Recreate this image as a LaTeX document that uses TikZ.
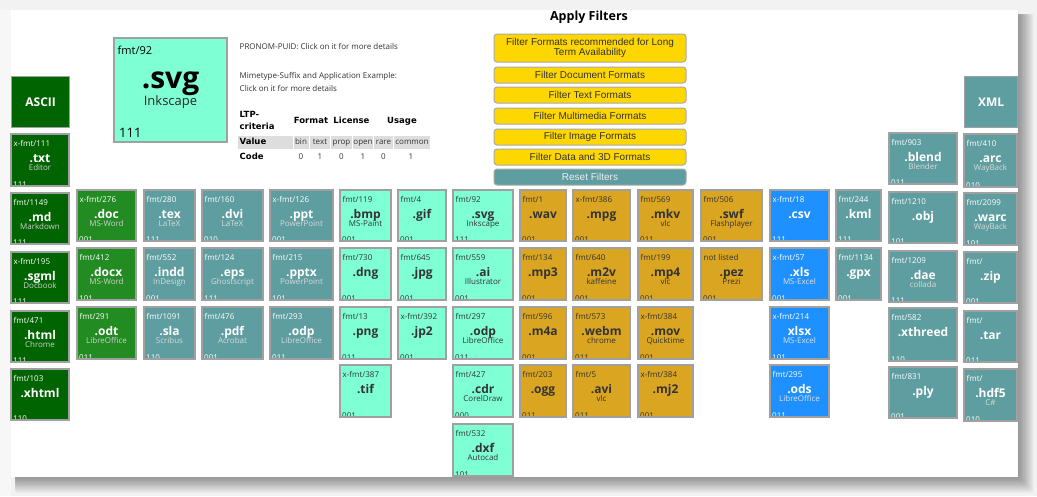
\documentclass[tikz,border=0pt]{standalone}
\usepackage{fontspec}
\setmainfont{Open Sans}
\newfontfamily\btnfont{Liberation Sans}
\newfontfamily\tabfont{DejaVu Sans}
\definecolor{dkgreen}{HTML}{006400}
\definecolor{fgreen}{HTML}{228B22}
\definecolor{cadet}{HTML}{5F9EA0}
\definecolor{aqua}{HTML}{7FFFD4}
\definecolor{gold}{HTML}{DAA520}
\definecolor{dodger}{HTML}{1E90FF}
\definecolor{btngold}{HTML}{FFD700}
\definecolor{darktext}{HTML}{333333}
\definecolor{tileedge}{HTML}{A0A0A0}
\definecolor{btnedge}{HTML}{A8A8A8}
\definecolor{cellgrey}{HTML}{DDDDDD}
\definecolor{backgr}{HTML}{F2F2F2}
\colorlet{fgdkgreen}{white}\colorlet{subdkgreen}{white!82!black}
\colorlet{fgfgreen}{white}\colorlet{subfgreen}{white!82!black}
\colorlet{fgcadet}{white}\colorlet{subcadet}{white!85!black}
\colorlet{fgdodger}{white}\colorlet{subdodger}{white!88!black}
\colorlet{fgaqua}{darktext}\colorlet{subaqua}{darktext}
\colorlet{fggold}{darktext}\colorlet{subgold}{darktext}
\newcommand\tile[9]{\def\tileN{#1}\def\tileC{#2}\def\tileL{#3}\def\tileR{#4}\def\tileT{#5}\def\tileB{#6}\def\tileI{#7}\def\tileE{#8}\def\tileA{#9}\tilefinish}
\newcommand\tilefinish[1]{%
 \begin{scope}
  \clip (\tileL,\tileT) rectangle (\tileR,\tileB);
  \node[tilebox, fill=\tileC, minimum width={(\tileR-\tileL)*1pt}, minimum height={(\tileB-\tileT)*1pt}] (\tileN) at ({(\tileL+\tileR)/2},{(\tileT+\tileB)/2}) {};
  \node[idtxt, text=fg\tileC, anchor=base west] (\tileN-id) at ({\tileL+2.5},{\tileT+12}) {\tileI};
  \node[exttxt, text=fg\tileC, anchor=base] (\tileN-ext) at ({(\tileL+\tileR)/2},{\tileT+28}) {\tileE};
  \ifx\tileA\empty\else
  \node[apptxt, text=sub\tileC, anchor=base] (\tileN-app) at ({(\tileL+\tileR)/2},{\tileT+36}) {\tileA};
  \fi
  \node[codetxt, text=fg\tileC, anchor=base west] (\tileN-code) at ({\tileL+2},{\tileB+1}) {#1};
 \end{scope}
 \draw[tileborder] (\tileN.north west) rectangle (\tileN.south east);
}
\begin{document}
\begin{tikzpicture}[x=1pt,y=-1pt,
 tilebox/.style={rectangle, inner sep=0pt, outer sep=0pt},
 tileborder/.style={draw=tileedge, line width=1.3pt},
 idtxt/.style={font=\fontsize{8}{9}\selectfont, inner sep=0pt},
 exttxt/.style={font=\bfseries\fontsize{12}{13}\selectfont, inner sep=0pt},
 apptxt/.style={font=\fontsize{8}{9}\selectfont, inner sep=0pt},
 codetxt/.style={font=\fontsize{8}{9}\selectfont, inner sep=0pt},
 headtile/.style={rectangle, inner sep=0pt, draw=tileedge, line width=1.3pt, text=white, font=\bfseries\fontsize{12}{13}\selectfont},
 btn/.style={rectangle, rounded corners=3pt, draw=btnedge, line width=1pt, fill=btngold, inner sep=0pt, minimum width=192pt, text=darktext, font=\btnfont\fontsize{10}{12}\selectfont, align=center},
 legtxt/.style={inner sep=0pt, text=darktext, font=\fontsize{8}{9}\selectfont},
 tabbold/.style={inner sep=0pt, text=black, font=\tabfont\bfseries\fontsize{8.5}{10}\selectfont},
 tabcell/.style={inner sep=0pt, text=darktext, font=\fontsize{8}{9}\selectfont},
 greycell/.style={fill=cellgrey},
]
\useasboundingbox (0,0) rectangle (1037,496);
% background and panel
\fill[backgr] (0,0) rectangle (1037,496);
\fill[white!97!black] (0,10) rectangle (11,496);
\foreach \i in {1,...,12}
  \fill[black, opacity=0.035, rounded corners=2pt] (15,14) rectangle ({1018+\i*1.3},{477+\i*1.3});
\node[tilebox, fill=white, minimum width=1007pt, minimum height=467pt, anchor=north west] (panel) at (11,10) {};

% title and filter buttons
\node[inner sep=0pt, anchor=base, font=\bfseries\fontsize{12.5}{14}\selectfont, text=black] (title) at (589,20.5) {Apply Filters};
\node[btn, minimum height=28pt] (b1) at (590,48) {Filter Formats recommended for Long\\[-1.5pt]Term Availability};
\node[btn, minimum height=16pt] (b2) at (590,75) {Filter Document Formats};
\node[btn, minimum height=16pt] (b3) at (590,95) {Filter Text Formats};
\node[btn, minimum height=16pt] (b4) at (590,116) {Filter Multimedia Formats};
\node[btn, minimum height=16pt] (b5) at (590,137) {Filter Image Formats};
\node[btn, minimum height=16pt] (b6) at (590,157) {Filter Data and 3D Formats};
\node[btn, minimum height=16pt, fill=cadet, text=white!93!black] (b7) at (590,177) {Reset Filters};

% legend tile
\begin{scope}
\node[tilebox, fill=aqua, minimum width=113pt, minimum height=104pt, anchor=north west] (legend) at (114,38) {};
\node[inner sep=0pt, anchor=base west, text=black, font=\fontsize{11}{12}\selectfont] (legend-id) at (117.5,54.5) {fmt/92};
\node[inner sep=0pt, anchor=base, text=black, font=\bfseries\fontsize{30}{32}\selectfont] (legend-ext) at (170.5,88.5) {.svg};
\node[inner sep=0pt, anchor=base, text=black!85, font=\fontsize{13}{14}\selectfont] (legend-app) at (170.5,105) {Inkscape};
\node[inner sep=0pt, anchor=base west, text=black, font=\fontsize{13}{14}\selectfont] (legend-code) at (119,137) {111};
\end{scope}
\draw[tileborder] (legend.north west) rectangle (legend.south east);

% legend texts
\node[legtxt, anchor=base west] (l1) at (239.5,49.3) {PRONOM-PUID: Click on it for more details};
\node[legtxt, anchor=base west] (l2) at (239.5,78.5) {Mimetype-Suffix and Application Example:};
\node[legtxt, anchor=base west] (l3) at (239.5,91.8) {Click on it for more details};
% table
\node[tabbold, anchor=base west] (ltp1) at (239.5,117.5) {LTP-};
\node[tabbold, anchor=base west] (ltp2) at (239.5,129.5) {criteria};
\node[tabbold, anchor=base] (hfmt) at (311,123.3) {Format};
\node[tabbold, anchor=base] (hlic) at (351.5,123.3) {License};
\node[tabbold, anchor=base] (huse) at (402,123.3) {Usage};
\fill[greycell] (238,135.5) rectangle (292.5,148.5);
\fill[greycell] (293.5,135.5) rectangle (309,148.5);
\fill[greycell] (310,135.5) rectangle (330,148.5);
\fill[greycell] (331,135.5) rectangle (352,148.5);
\fill[greycell] (353,135.5) rectangle (373,148.5);
\fill[greycell] (374,135.5) rectangle (393,148.5);
\fill[greycell] (394,135.5) rectangle (430,148.5);
\node[tabbold, anchor=base west] (vlab) at (239.5,144.5) {Value};
\node[tabcell, anchor=base] (v1) at (301,144.5) {bin};
\node[tabcell, anchor=base] (v2) at (320,144.5) {text};
\node[tabcell, anchor=base] (v3) at (341.5,144.5) {prop};
\node[tabcell, anchor=base] (v4) at (363,144.5) {open};
\node[tabcell, anchor=base] (v5) at (383.5,144.5) {rare};
\node[tabcell, anchor=base] (v6) at (412,144.5) {common};
\node[tabbold, anchor=base west] (clab) at (239.5,159.5) {Code};
\node[tabcell, anchor=base] (c1) at (301,159.5) {0};
\node[tabcell, anchor=base] (c2) at (320,159.5) {1};
\node[tabcell, anchor=base] (c3) at (341.5,159.5) {0};
\node[tabcell, anchor=base] (c4) at (363,159.5) {1};
\node[tabcell, anchor=base] (c5) at (383.5,159.5) {0};
\node[tabcell, anchor=base] (c6) at (411,159.5) {1};

% header tiles
\node[headtile, fill=dkgreen, minimum width=58pt, minimum height=51pt, anchor=north west] (ascii) at (11,76) {ASCII};
\node[headtile, fill=cadet, minimum width=53pt, minimum height=51pt, anchor=north west] (xml) at (964,76) {XML};

% column 1
\tile{txt}{dkgreen}{11}{69}{134}{186}{x-fmt/111}{.txt}{Editor}{111}
\tile{md}{dkgreen}{11}{69}{193}{244}{fmt/1149}{.md}{Markdown}{111}
\tile{sgml}{dkgreen}{11}{69}{252}{303}{x-fmt/195}{.sgml}{Docbook}{111}
\tile{html}{dkgreen}{11}{69}{311}{362}{fmt/471}{.html}{Chrome}{111}
\tile{xhtml}{dkgreen}{11}{69}{369}{420}{fmt/103}{.xhtml}{}{110}
% column 2
\tile{doc}{fgreen}{77}{136}{190}{241}{x-fmt/276}{.doc}{MS-Word}{001}
\tile{docx}{fgreen}{77}{136}{248}{300}{fmt/412}{.docx}{MS-Word}{101}
\tile{odt}{fgreen}{77}{136}{307}{359}{fmt/291}{.odt}{LibreOffice}{011}
% column 3
\tile{tex}{cadet}{144}{195}{190}{241}{fmt/280}{.tex}{LaTeX}{111}
\tile{indd}{cadet}{144}{195}{248}{300}{fmt/552}{.indd}{InDesign}{001}
\tile{sla}{cadet}{144}{195}{307}{359}{fmt/1091}{.sla}{Scribus}{110}
% column 4
\tile{dvi}{cadet}{202}{263}{190}{241}{fmt/160}{.dvi}{LaTeX}{010}
\tile{eps}{cadet}{202}{263}{248}{300}{fmt/124}{.eps}{Ghostscript}{111}
\tile{pdf}{cadet}{202}{263}{307}{359}{fmt/476}{.pdf}{Acrobat}{001}
% column 5
\tile{ppt}{cadet}{270}{333}{190}{241}{x-fmt/126}{.ppt}{PowerPoint}{001}
\tile{pptx}{cadet}{270}{333}{248}{300}{fmt/215}{.pptx}{PowerPoint}{101}
\tile{odp}{cadet}{270}{333}{307}{359}{fmt/293}{.odp}{LibreOffice}{011}
% column 6
\tile{bmp}{aqua}{340}{391}{190}{241}{fmt/119}{.bmp}{MS-Paint}{001}
\tile{dng}{aqua}{340}{391}{248}{300}{fmt/730}{.dng}{}{001}
\tile{png}{aqua}{340}{391}{307}{359}{fmt/13}{.png}{}{011}
\tile{tif}{aqua}{340}{391}{365}{417}{x-fmt/387}{.tif}{}{001}
% column 7
\tile{gif}{aqua}{398}{446}{190}{241}{fmt/4}{.gif}{}{001}
\tile{jpg}{aqua}{398}{446}{248}{300}{fmt/645}{.jpg}{}{001}
\tile{jptwo}{aqua}{398}{446}{307}{359}{x-fmt/392}{.jp2}{}{001}
% column 8
\tile{svg}{aqua}{453}{513}{190}{241}{fmt/92}{.svg}{Inkscape}{111}
\tile{ai}{aqua}{453}{513}{248}{300}{fmt/559}{.ai}{Illustrator}{001}
\tile{odpb}{aqua}{453}{513}{307}{359}{fmt/297}{.odp}{LibreOffice}{011}
\tile{cdr}{aqua}{453}{513}{365}{417}{fmt/427}{.cdr}{CorelDraw}{000}
\tile{dxf}{aqua}{453}{513}{424}{476}{fmt/532}{.dxf}{Autocad}{101}
% column 9
\tile{wav}{gold}{520}{566}{190}{241}{fmt/1}{.wav}{}{001}
\tile{mpthree}{gold}{520}{566}{248}{300}{fmt/134}{.mp3}{}{001}
\tile{mfoura}{gold}{520}{566}{307}{359}{fmt/596}{.m4a}{}{001}
\tile{ogg}{gold}{520}{566}{365}{417}{fmt/203}{.ogg}{}{011}
% column 10
\tile{mpg}{gold}{573}{630}{190}{241}{x-fmt/386}{.mpg}{}{001}
\tile{mtwov}{gold}{573}{630}{248}{300}{fmt/640}{.m2v}{kaffeine}{001}
\tile{webm}{gold}{573}{630}{307}{359}{fmt/573}{.webm}{chrome}{011}
\tile{avi}{gold}{573}{630}{365}{417}{fmt/5}{.avi}{vlc}{011}
% column 11
\tile{mkv}{gold}{638}{693}{190}{241}{fmt/569}{.mkv}{vlc}{011}
\tile{mpfour}{gold}{638}{693}{248}{300}{fmt/199}{.mp4}{vlc}{001}
\tile{mov}{gold}{638}{693}{307}{359}{x-fmt/384}{.mov}{Quicktime}{001}
\tile{mjtwo}{gold}{638}{693}{365}{417}{x-fmt/384}{.mj2}{}{001}
% column 12
\tile{swf}{gold}{701}{762}{190}{241}{fmt/506}{.swf}{Flashplayer}{001}
\tile{pez}{gold}{701}{762}{248}{300}{not listed}{.pez}{Prezi}{001}
% column 13
\tile{csv}{dodger}{770}{829}{190}{241}{x-fmt/18}{.csv}{}{111}
\tile{xls}{dodger}{770}{829}{248}{300}{x-fmt/57}{.xls}{MS-Excel}{001}
\tile{xlsx}{dodger}{770}{829}{307}{359}{x-fmt/214}{xlsx}{MS-Excel}{101}
\tile{ods}{dodger}{770}{829}{365}{417}{fmt/295}{.ods}{LibreOffice}{011}
% column 14
\tile{kml}{cadet}{836}{881}{190}{241}{fmt/244}{.kml}{}{111}
\tile{gpx}{cadet}{836}{881}{248}{300}{fmt/1134}{.gpx}{}{001}
% column 15
\tile{blend}{cadet}{889}{957}{133}{184}{fmt/903}{.blend}{Blender}{011}
\tile{obj}{cadet}{889}{957}{192}{243}{fmt/1210}{.obj}{}{101}
\tile{dae}{cadet}{889}{957}{251}{302}{fmt/1209}{.dae}{collada}{111}
\tile{xthreed}{cadet}{889}{957}{308}{361}{fmt/582}{.xthreed}{}{110}
\tile{ply}{cadet}{889}{957}{367}{418}{fmt/831}{.ply}{}{001}
% column 16
\tile{arc}{cadet}{964}{1017}{134}{187}{fmt/410}{.arc}{WayBack}{010}
\tile{warc}{cadet}{964}{1017}{193}{245}{fmt/2099}{.warc}{WayBack}{101}
\tile{zip}{cadet}{964}{1017}{252}{303}{fmt/}{.zip}{}{001}
\tile{tar}{cadet}{964}{1017}{311}{362}{fmt/}{.tar}{}{011}
\tile{hdf}{cadet}{964}{1017}{369}{421}{fmt/}{.hdf5}{C\#}{010}
\end{tikzpicture}
\end{document}
